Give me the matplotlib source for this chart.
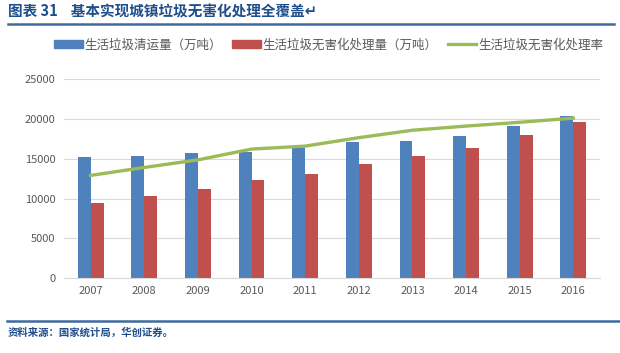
import matplotlib.pyplot as plt
from matplotlib.lines import Line2D
import numpy as np

plt.rcParams['font.family'] = ['Noto Sans CJK SC', 'DejaVu Sans']

years = ['2007', '2008', '2009', '2010', '2011', '2012', '2013', '2014', '2015', '2016']
collected = [15200, 15300, 15700, 15800, 16400, 17100, 17200, 17900, 19100, 20400]
treated = [9400, 10300, 11200, 12400, 13100, 14400, 15400, 16400, 18000, 19700]
rate = [62.0, 66.8, 71.4, 77.9, 79.7, 84.8, 89.3, 91.8, 94.1, 96.6]

names = ['生活垃圾清运量（万吨）', '生活垃圾无害化处理量（万吨）', '生活垃圾无害化处理率']
blue, red, green = '#4F81BD', '#C0504D', '#9BBB59'
gray = '#595959'
navy = '#1F4E8C'

fig = plt.figure(figsize=(6.2, 3.53), dpi=100)
ax = fig.add_axes([0.103, 0.2125, 0.865, 0.5625])

x = np.arange(len(years))
w = 0.24
ax.bar(x - w / 2, collected, w, color=blue, label=names[0], zorder=2)
ax.bar(x + w / 2, treated, w, color=red, label=names[1], zorder=2)

ax.set_xlim(-0.5, len(years) - 0.5)
ax.set_ylim(0, 25000)
ax.set_yticks(range(0, 25001, 5000))
ax.set_xticks(x)
ax.set_xticklabels(years)
ax.yaxis.grid(True, color='#D9D9D9', linewidth=0.8, zorder=0)
ax.set_axisbelow(True)
for s in ['top', 'right', 'left']:
    ax.spines[s].set_visible(False)
ax.spines['bottom'].set_color('#D9D9D9')
ax.tick_params(length=0, labelsize=8, colors=gray, pad=6)

# rate on a hidden right axis (0-120%)
ax2 = ax.twinx()
ax2.plot(x, rate, color=green, linewidth=2.4, zorder=3)
ax2.set_ylim(0, 120)
ax2.axis('off')

handles = [plt.Rectangle((0, 0), 1, 1, color=blue),
           plt.Rectangle((0, 0), 1, 1, color=red),
           Line2D([0], [0], color=green, linewidth=2.4)]
fig.legend(handles, names, loc='center', bbox_to_anchor=(0.53, 0.872), ncol=3,
           frameon=False, fontsize=9, labelcolor=gray, handlelength=2.3,
           handleheight=0.6, handletextpad=0.15, columnspacing=0.8)

# title and rules
fig.text(0.013, 0.968, '图表 31    基本实现城镇垃圾无害化处理全覆盖↵', fontsize=10.5,
         fontweight='bold', color=navy, va='center', ha='left')
fig.add_artist(Line2D([0.013, 0.99], [0.932, 0.932], color='#3F6AA0', linewidth=1.8))
fig.add_artist(Line2D([0.011, 1.0], [0.092, 0.092], color='#3F6AA0', linewidth=1.8))
fig.text(0.013, 0.057, '资料来源：国家统计局，华创证券。', fontsize=7.5,
         fontweight='bold', color=navy, va='center', ha='left')

fig.savefig('out.png', dpi=100)
